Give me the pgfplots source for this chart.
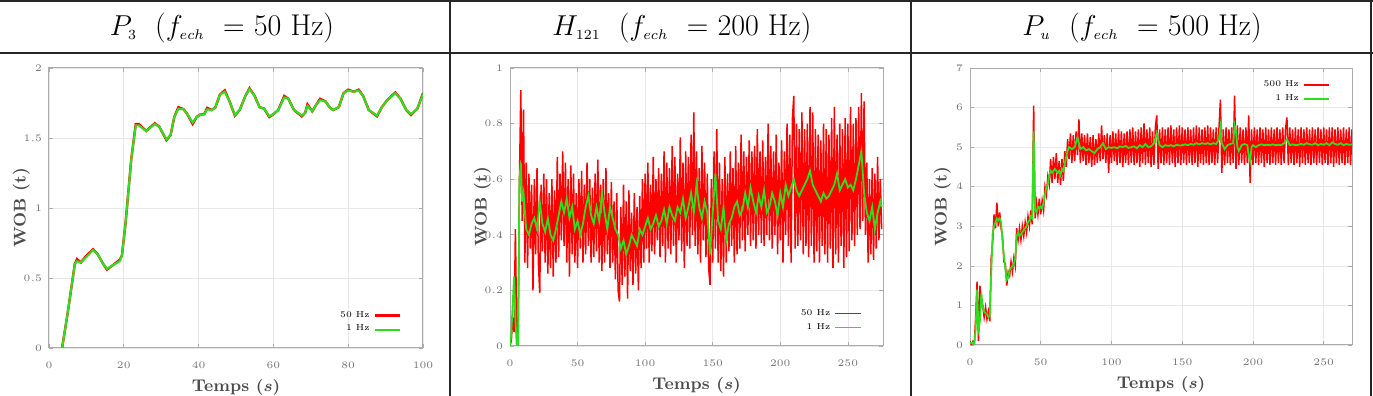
\documentclass[border=0pt]{standalone}
\usepackage{pgfplots}
\pgfplotsset{compat=1.18}
\definecolor{gred}{RGB}{255,0,0}
\definecolor{ggreen}{RGB}{50,220,30}
\pgfplotsset{myax/.style={scale only axis,
  axis line style={gray!65, line width=0.5pt},
  grid=major, grid style={gray!18, line width=0.3pt},
  tick style={gray!65, line width=0.3pt}, major tick length=1.8pt, tick align=inside,
  ticklabel style={font=\fontsize{4.3}{5}\selectfont, color=gray!90!black},
  xticklabel style={yshift=-3.5pt},
  xlabel={Temps $\boldsymbol{(s)}$}, ylabel={WOB (t)},
  legend style={draw=none, fill=none, font=\fontsize{4.3}{4.8}\selectfont, legend cell align=right, row sep=-1.5pt},
  legend plot pos=right,
  legend image code/.code={\draw[#1] (0cm,0cm) -- (0.45cm,0cm);},
  every axis x label/.style={at={(axis description cs:0.5,0)}, anchor=north, yshift=-12pt, font=\fontsize{8.5}{10}\selectfont\bfseries, color=gray!60!black},
  every axis y label/.style={at={(axis description cs:0,0.5)}, anchor=south, rotate=90, yshift=6pt, font=\fontsize{8.5}{10}\selectfont\bfseries, color=gray!60!black},
}}
\usepackage{amsmath}
\begin{document}
\begin{tikzpicture}
\path[use as bounding box] (0,0) rectangle (686.5pt,198pt);
% table lines
\draw[gray!30!black, line width=1pt] (0,197.5pt) -- (686.5pt,197.5pt);
\draw[gray!30!black, line width=1pt] (0,171.5pt) -- (686.5pt,171.5pt);
\draw[gray!30!black, line width=1pt] (225pt,0) -- (225pt,198pt);
\draw[gray!30!black, line width=1pt] (455.5pt,0) -- (455.5pt,198pt);
\draw[gray!30!black, line width=1pt] (685.5pt,0) -- (685.5pt,198pt);
% headers
\node[font=\fontsize{15}{18}\selectfont] at (111pt,184pt) {$P_{\scriptscriptstyle 3}$\ \ ($f_{\scriptscriptstyle ech}$\ \ $=$ 50 Hz)};
\node[font=\fontsize{15}{18}\selectfont] at (341pt,184pt) {$H_{\scriptscriptstyle 121}$\ \ ($f_{\scriptscriptstyle ech}$\ \ $=$ 200 Hz)};
\node[font=\fontsize{15}{18}\selectfont] at (571pt,184pt) {$P_{\scriptscriptstyle u}$\ \ ($f_{\scriptscriptstyle ech}$\ \ $=$ 500 Hz)};

% ---------- Plot 1
\begin{axis}[myax, at={(24.5pt,24pt)}, anchor=south west, width=187pt, height=140pt,
  xmin=0, xmax=100, ymin=0, ymax=2, xtick={0,20,40,60,80,100}, ytick={0,0.5,1,1.5,2},
  legend style={at={(0.96,0.02)}, anchor=south east}]
\addlegendimage{draw=gred, line width=1.2pt}
\addlegendentry{50 Hz}
\addlegendimage{draw=ggreen, line width=1.05pt}
\addlegendentry{1 Hz}
\addplot[draw=gred, line width=1.2pt, forget plot] coordinates {(3.5,0)(5,0.25)(6.9,0.6)(7.5,0.635)(8.5,0.61)(10,0.66)(11.8,0.705)(13,0.67)(14.5,0.6)(15.5,0.56)(17,0.59)(18.9,0.63)(19.5,0.66)(20.5,0.9)(22,1.35)(23.2,1.6)(24,1.6)(26,1.55)(28.3,1.605)(29.5,1.58)(31.4,1.485)(32.5,1.52)(33.5,1.65)(34.6,1.72)(36,1.705)(37,1.67)(38.4,1.6)(39.5,1.65)(40.4,1.667)(41.5,1.67)(42.3,1.715)(43.5,1.7)(44.5,1.72)(45.7,1.81)(47,1.84)(48.3,1.76)(49.7,1.66)(51,1.7)(52.5,1.8)(53.6,1.855)(55,1.8)(56.3,1.72)(57.5,1.71)(58.9,1.65)(60,1.67)(61.3,1.7)(62.9,1.8)(64,1.78)(65.5,1.7)(67.6,1.655)(68.5,1.68)(69.1,1.74)(70.4,1.69)(71.5,1.74)(72.5,1.78)(74,1.76)(75,1.72)(76,1.7)(77.5,1.72)(78.75,1.82)(80,1.845)(81.5,1.83)(82.8,1.845)(84,1.8)(85.5,1.7)(87.7,1.655)(89,1.72)(90.4,1.77)(92.6,1.825)(94,1.78)(95.5,1.7)(96.8,1.665)(98.5,1.71)(100,1.82)};
\addplot[draw=ggreen, line width=1.05pt, forget plot] coordinates {(3.5,0)(5,0.25)(6.9,0.6)(7.5,0.62)(8.5,0.61)(10,0.65)(11.8,0.7)(13,0.67)(14.5,0.6)(15.5,0.565)(17,0.59)(18.9,0.62)(19.5,0.66)(20.5,0.9)(22,1.35)(23.2,1.59)(24,1.59)(26,1.55)(28.3,1.6)(29.5,1.58)(31.4,1.49)(32.5,1.52)(33.5,1.65)(34.6,1.71)(36,1.705)(37,1.67)(38.4,1.61)(39.5,1.65)(40.4,1.665)(41.5,1.67)(42.3,1.705)(43.5,1.7)(44.5,1.72)(45.7,1.81)(47,1.83)(48.3,1.76)(49.7,1.665)(51,1.7)(52.5,1.8)(53.6,1.85)(55,1.8)(56.3,1.72)(57.5,1.71)(58.9,1.655)(60,1.67)(61.3,1.7)(62.9,1.79)(64,1.78)(65.5,1.7)(67.6,1.66)(68.5,1.68)(69.1,1.73)(70.4,1.69)(71.5,1.74)(72.5,1.77)(74,1.76)(75,1.72)(76,1.7)(77.5,1.72)(78.75,1.82)(80,1.84)(81.5,1.83)(82.8,1.84)(84,1.8)(85.5,1.7)(87.7,1.66)(89,1.72)(90.4,1.77)(92.6,1.82)(94,1.78)(95.5,1.7)(96.8,1.67)(98.5,1.71)(100,1.815)};
\end{axis}

% ---------- Plot 2
\begin{axis}[myax, at={(255pt,25pt)}, anchor=south west, width=186.5pt, height=139pt,
  xmin=0, xmax=276, ymin=0, ymax=1, xtick={0,50,100,150,200,250}, ytick={0,0.2,0.4,0.6,0.8,1},
  legend style={at={(0.96,0.02)}, anchor=south east}]
\addlegendimage{draw=gred, line width=0.6pt}
\addlegendentry{50 Hz}
\addlegendimage{draw=ggreen, line width=0.9pt}
\addlegendentry{1 Hz}
\addplot[draw=gred, line width=0.75pt, forget plot] coordinates {(0,0)(1,0.02)(2,0.1)(3,0.05)(4,0.42)(5,0.03)(6,0.0)(7,0.6)(8,0.92)(9,0.45)(10,0.85)(11,0.3)(12,0.66)(13,0.28)(14,0.62)(15,0.35)(16,0.58)(17,0.2)(18,0.6)(19,0.33)(20,0.64)(21,0.3)(22,0.19)(23,0.58)(24,0.34)(25,0.62)(26,0.3)(27,0.6)(28,0.26)(29,0.55)(30,0.28)(31,0.6)(32,0.25)(33,0.56)(34,0.3)(35,0.68)(36,0.32)(37,0.62)(38,0.38)(39,0.7)(40,0.36)(41,0.66)(42,0.3)(43,0.6)(44,0.25)(45,0.65)(46,0.33)(47,0.62)(48,0.3)(49,0.55)(50,0.28)(51,0.6)(52,0.35)(53,0.63)(54,0.3)(55,0.58)(56,0.33)(57,0.66)(58,0.36)(59,0.6)(60,0.3)(61,0.57)(62,0.32)(63,0.62)(64,0.34)(65,0.67)(66,0.3)(67,0.58)(68,0.27)(69,0.6)(70,0.3)(71,0.64)(72,0.33)(73,0.55)(74,0.28)(75,0.59)(76,0.3)(77,0.52)(78,0.24)(79,0.55)(80,0.2)(81,0.16)(82,0.5)(83,0.22)(84,0.58)(85,0.25)(86,0.52)(87,0.17)(88,0.56)(89,0.27)(90,0.48)(91,0.22)(92,0.55)(93,0.26)(94,0.5)(95,0.2)(96,0.54)(97,0.28)(98,0.6)(99,0.3)(100,0.62)(101,0.35)(102,0.66)(103,0.3)(104,0.58)(105,0.34)(106,0.68)(107,0.33)(108,0.6)(109,0.38)(110,0.64)(111,0.32)(112,0.62)(113,0.36)(114,0.7)(115,0.3)(116,0.66)(117,0.35)(118,0.64)(119,0.33)(120,0.72)(121,0.36)(122,0.68)(123,0.3)(124,0.62)(125,0.38)(126,0.75)(127,0.34)(128,0.66)(129,0.28)(130,0.7)(131,0.36)(132,0.68)(133,0.35)(134,0.76)(135,0.4)(136,0.84)(137,0.36)(138,0.7)(139,0.33)(140,0.64)(141,0.3)(142,0.72)(143,0.38)(144,0.66)(145,0.32)(146,0.62)(147,0.28)(148,0.22)(149,0.6)(150,0.3)(151,0.7)(152,0.35)(153,0.78)(154,0.3)(155,0.66)(156,0.27)(157,0.6)(158,0.25)(159,0.68)(160,0.3)(161,0.62)(162,0.34)(163,0.7)(164,0.36)(165,0.64)(166,0.3)(167,0.72)(168,0.33)(169,0.66)(170,0.35)(171,0.76)(172,0.38)(173,0.7)(174,0.34)(175,0.68)(176,0.4)(177,0.74)(178,0.36)(179,0.7)(180,0.38)(181,0.72)(182,0.35)(183,0.78)(184,0.4)(185,0.7)(186,0.37)(187,0.74)(188,0.36)(189,0.68)(190,0.4)(191,0.8)(192,0.38)(193,0.72)(194,0.35)(195,0.7)(196,0.4)(197,0.76)(198,0.33)(199,0.66)(200,0.38)(201,0.74)(202,0.3)(203,0.7)(204,0.4)(205,0.8)(206,0.36)(207,0.76)(208,0.3)(209,0.82)(210,0.9)(211,0.35)(212,0.8)(213,0.36)(214,0.78)(215,0.38)(216,0.84)(217,0.33)(218,0.78)(219,0.36)(220,0.8)(221,0.32)(222,0.86)(223,0.36)(224,0.84)(225,0.3)(226,0.78)(227,0.34)(228,0.76)(229,0.3)(230,0.74)(231,0.36)(232,0.8)(233,0.33)(234,0.78)(235,0.3)(236,0.76)(237,0.35)(238,0.82)(239,0.28)(240,0.86)(241,0.33)(242,0.76)(243,0.3)(244,0.8)(245,0.36)(246,0.78)(247,0.28)(248,0.82)(249,0.32)(250,0.8)(251,0.34)(252,0.86)(253,0.38)(254,0.8)(255,0.36)(256,0.82)(257,0.4)(258,0.86)(259,0.42)(260,0.91)(261,0.45)(262,0.88)(263,0.4)(264,0.66)(265,0.3)(266,0.6)(267,0.33)(268,0.64)(269,0.31)(270,0.62)(271,0.35)(272,0.68)(273,0.38)(274,0.6)(275,0.42)};
\addplot[draw=ggreen, line width=0.9pt, forget plot] coordinates {(0,0)(1,0.05)(2,0.15)(3,0.25)(4,0.1)(5,0.0)(6,0.0)(7,0.6)(8,0.66)(9,0.52)(10,0.55)(12,0.42)(14,0.4)(16,0.44)(18,0.46)(20,0.42)(22,0.52)(24,0.44)(26,0.41)(28,0.46)(30,0.4)(32,0.38)(34,0.42)(36,0.47)(38,0.52)(40,0.48)(42,0.53)(44,0.46)(46,0.5)(48,0.42)(50,0.45)(52,0.4)(54,0.44)(56,0.5)(58,0.54)(60,0.47)(62,0.44)(64,0.5)(66,0.45)(68,0.55)(70,0.48)(72,0.42)(74,0.5)(76,0.46)(78,0.42)(80,0.4)(82,0.35)(84,0.38)(86,0.33)(88,0.36)(90,0.4)(92,0.38)(94,0.36)(96,0.42)(98,0.4)(100,0.43)(102,0.46)(104,0.42)(106,0.44)(108,0.47)(110,0.43)(112,0.45)(114,0.49)(116,0.44)(118,0.5)(120,0.47)(122,0.45)(124,0.5)(126,0.48)(128,0.53)(130,0.46)(132,0.5)(134,0.55)(136,0.48)(138,0.58)(140,0.5)(142,0.46)(144,0.52)(146,0.48)(148,0.33)(150,0.48)(152,0.62)(154,0.45)(156,0.42)(158,0.5)(160,0.38)(162,0.44)(164,0.46)(166,0.5)(168,0.52)(170,0.47)(172,0.49)(174,0.55)(176,0.5)(178,0.57)(180,0.52)(182,0.48)(184,0.54)(186,0.5)(188,0.56)(190,0.48)(192,0.5)(194,0.55)(196,0.52)(198,0.47)(200,0.55)(202,0.5)(204,0.58)(206,0.54)(208,0.57)(210,0.6)(212,0.56)(214,0.54)(216,0.56)(218,0.58)(220,0.6)(222,0.63)(224,0.58)(226,0.56)(228,0.54)(230,0.52)(232,0.55)(234,0.53)(236,0.54)(238,0.56)(240,0.58)(242,0.62)(244,0.56)(246,0.58)(248,0.6)(250,0.57)(252,0.58)(254,0.56)(256,0.6)(258,0.65)(260,0.7)(262,0.55)(264,0.48)(266,0.45)(268,0.5)(270,0.42)(272,0.48)(274,0.52)(275,0.5)};
\end{axis}

% ---------- Plot 3
\begin{axis}[myax, at={(485pt,25.5pt)}, anchor=south west, width=191pt, height=138.5pt,
  xmin=0, xmax=270, ymin=0, ymax=7, xtick={0,50,100,150,200,250}, ytick={0,1,2,3,4,5,6,7},
  legend style={at={(0.96,0.985)}, anchor=north east}]
\addlegendimage{draw=gred, line width=0.6pt}
\addlegendentry{500 Hz}
\addlegendimage{draw=ggreen, line width=0.9pt}
\addlegendentry{1 Hz}
\addplot[draw=gred, line width=0.75pt, forget plot] coordinates {(0,0.1)(1,0.0)(2,0.08)(3,0.0)(4,0.7)(5,1.6)(6,0.1)(7,1.5)(8,1.1)(9,1.0)(10,0.7)(11,0.95)(12,0.65)(13,0.85)(14,0.6)(15,2.2)(16,2.6)(17,3.3)(18,2.95)(19,3.6)(20,3.0)(21,3.35)(22,2.95)(23,2.75)(24,2.1)(25,2.05)(26,1.5)(27,1.85)(28,1.75)(29,2.1)(30,1.85)(31,2.2)(32,2.0)(33,2.95)(34,2.65)(35,2.95)(36,2.65)(37,3.0)(38,2.75)(39,3.1)(40,2.85)(41,3.25)(42,3.0)(43,3.4)(44,3.05)(45,6.05)(46,3.2)(47,3.6)(48,3.3)(49,3.7)(50,3.3)(51,3.65)(52,3.4)(53,4.0)(54,3.8)(55,4.25)(56,4.05)(57,4.7)(58,4.1)(59,4.75)(60,4.2)(61,4.85)(62,4.1)(63,4.65)(64,4.05)(65,4.7)(66,4.15)(67,4.9)(68,4.5)(69,5.2)(70,4.7)(71,5.35)(72,4.6)(73,5.3)(74,4.65)(75,5.4)(76,4.8)(77,5.7)(78,4.6)(79,5.35)(80,4.65)(81,5.3)(82,4.55)(83,5.35)(84,4.6)(85,5.25)(86,4.5)(87,5.3)(88,4.55)(89,5.2)(90,4.6)(91,5.35)(92,4.65)(93,5.55)(94,4.7)(95,5.3)(96,4.6)(97,5.35)(98,4.35)(99,5.3)(100,4.6)(101,5.4)(102,4.65)(103,5.35)(104,4.55)(105,5.45)(106,4.6)(107,5.4)(108,4.5)(109,5.35)(110,4.6)(111,5.4)(112,4.55)(113,5.45)(114,4.6)(115,5.5)(116,4.55)(117,5.4)(118,4.6)(119,5.45)(120,4.5)(121,5.5)(122,4.6)(123,5.6)(124,4.55)(125,5.45)(126,4.6)(127,5.5)(128,4.5)(129,5.4)(130,4.55)(131,5.5)(132,5.8)(133,4.45)(134,5.45)(135,4.6)(136,5.5)(137,4.55)(138,5.45)(139,4.6)(140,5.5)(141,4.55)(142,5.55)(143,4.6)(144,5.45)(145,4.5)(146,5.5)(147,4.6)(148,5.55)(149,4.55)(150,5.5)(151,4.6)(152,5.45)(153,4.55)(154,5.5)(155,4.6)(156,5.45)(157,4.55)(158,5.5)(159,4.6)(160,5.55)(161,4.5)(162,5.5)(163,4.6)(164,5.45)(165,4.55)(166,5.5)(167,4.6)(168,5.55)(169,4.55)(170,5.5)(171,4.6)(172,5.45)(173,4.55)(174,5.5)(175,4.6)(176,5.5)(177,6.2)(178,4.35)(179,5.45)(180,4.55)(181,5.5)(182,4.6)(183,5.45)(184,4.55)(185,5.5)(186,4.6)(187,6.3)(188,4.45)(189,5.55)(190,4.55)(191,5.5)(192,4.6)(193,5.45)(194,4.55)(195,5.5)(196,4.6)(197,5.8)(198,4.1)(199,5.45)(200,4.55)(201,5.5)(202,4.6)(203,5.45)(204,4.55)(205,5.5)(206,4.6)(207,5.45)(208,4.5)(209,5.5)(210,4.6)(211,5.45)(212,4.55)(213,5.5)(214,4.6)(215,5.45)(216,4.55)(217,5.5)(218,4.6)(219,5.45)(220,4.55)(221,5.5)(222,4.6)(223,5.45)(224,5.75)(225,4.55)(226,5.5)(227,4.6)(228,5.45)(229,4.55)(230,5.5)(231,4.6)(232,5.45)(233,4.5)(234,5.5)(235,4.6)(236,5.45)(237,4.55)(238,5.5)(239,4.6)(240,5.45)(241,4.55)(242,5.5)(243,4.6)(244,5.45)(245,4.55)(246,5.5)(247,4.6)(248,5.45)(249,4.55)(250,5.5)(251,4.6)(252,5.45)(253,4.55)(254,5.5)(255,4.6)(256,5.5)(257,4.5)(258,5.45)(259,4.6)(260,5.5)(261,4.55)(262,5.45)(263,4.6)(264,5.5)(265,4.55)(266,5.45)(267,4.6)(268,5.5)(269,4.55)(270,5.45)};
\addplot[draw=ggreen, line width=0.9pt, forget plot] coordinates {(0,0.05)(2,0.05)(3,0.0)(4,0.4)(5,1.4)(6,0.4)(7,0.6)(8,1.3)(9,0.95)(10,0.85)(11,0.8)(12,0.78)(13,0.7)(14,0.75)(15,1.8)(16,2.8)(17,3.0)(18,3.1)(19,3.2)(20,3.15)(21,3.2)(22,3.1)(23,2.6)(24,2.25)(25,1.9)(26,1.65)(27,1.7)(28,1.9)(29,1.95)(30,2.0)(31,2.05)(32,2.2)(33,2.75)(34,2.85)(35,2.75)(36,2.8)(37,2.85)(38,2.9)(39,2.95)(40,3.0)(41,3.1)(42,3.15)(43,3.25)(44,3.2)(45,5.4)(46,3.4)(47,3.35)(48,3.5)(49,3.45)(50,3.5)(51,3.45)(52,3.6)(53,3.8)(54,4.0)(55,4.05)(56,4.3)(57,4.4)(58,4.35)(59,4.4)(60,4.45)(61,4.4)(62,4.35)(63,4.4)(64,4.3)(65,4.45)(66,4.4)(67,4.6)(68,4.75)(69,4.9)(70,5.0)(72,4.95)(74,5.0)(76,5.25)(78,4.95)(80,5.0)(82,4.92)(84,4.95)(86,4.9)(88,4.85)(90,4.95)(92,5.0)(94,5.1)(96,4.95)(98,5.0)(100,4.98)(102,5.0)(104,4.97)(106,5.02)(108,5.0)(110,5.03)(112,4.98)(114,5.0)(116,5.02)(118,4.97)(120,5.05)(122,5.0)(124,5.08)(126,5.0)(128,5.02)(130,5.1)(132,5.35)(134,5.05)(136,5.0)(138,5.05)(140,5.03)(142,5.05)(144,5.02)(146,5.06)(148,5.04)(150,5.05)(152,5.07)(154,5.05)(156,5.08)(158,5.06)(160,5.1)(162,5.07)(164,5.1)(166,5.08)(168,5.1)(170,5.07)(172,5.1)(174,5.08)(176,5.2)(177,5.5)(178,5.1)(180,4.95)(182,5.05)(184,5.08)(186,5.1)(187,5.55)(188,5.4)(189,5.0)(190,4.9)(192,5.05)(194,5.08)(196,5.05)(197,4.8)(198,4.65)(199,5.0)(200,5.05)(202,5.0)(204,5.05)(206,5.07)(208,5.05)(210,5.06)(212,5.05)(214,5.07)(216,5.05)(218,5.06)(220,5.05)(222,5.1)(224,5.2)(226,5.05)(228,5.07)(230,5.05)(232,5.06)(234,5.08)(236,5.06)(238,5.1)(240,5.07)(242,5.06)(244,5.1)(246,5.05)(248,5.08)(250,5.06)(252,5.1)(254,5.05)(256,5.12)(258,5.08)(260,5.06)(262,5.1)(264,5.05)(266,5.08)(268,5.06)(270,5.07)};
\end{axis}
\end{tikzpicture}
\end{document}
